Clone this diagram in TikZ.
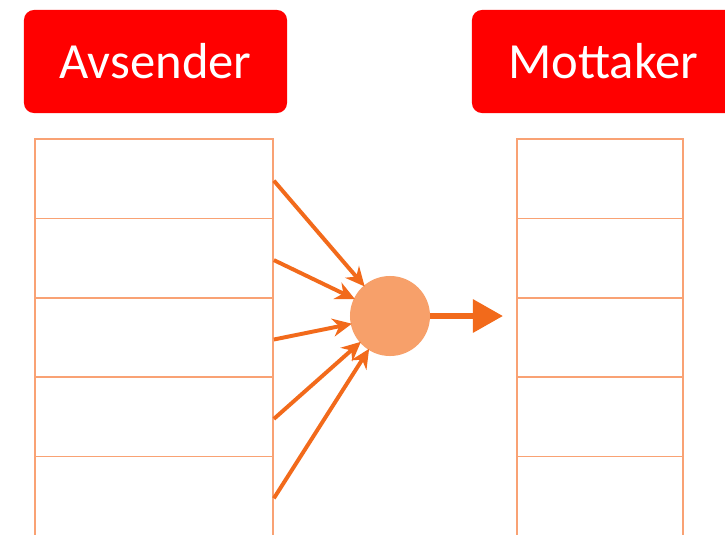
\documentclass[tikz,border=0pt]{standalone}
\usepackage{fontspec}
\setmainfont{Carlito}
\usepackage{xcolor}
\usetikzlibrary{positioning,arrows.meta,calc}

\definecolor{titlered}{HTML}{FF0000}
\definecolor{cellline}{HTML}{F9A274}
\definecolor{flowline}{HTML}{F26A1B}
\definecolor{hubfill}{HTML}{F7A06A}

\tikzset{
  titlebox/.style={draw=none, fill=titlered, rounded corners=0.25cm, text=white,
    font=\fontsize{36}{40}\selectfont, minimum width=6.575cm, minimum height=2.575cm},
  cell/.style={draw=cellline, line width=1.2pt, fill=white, minimum height=1.985cm},
  feed/.style={-{Stealth[length=0.48cm, width=0.45cm]}, line width=2.8pt, flowline, shorten >=-1pt},
  outarrow/.style={-{Triangle[length=0.75cm, width=0.8cm]}, line width=4.3pt, flowline}
}

\begin{document}
\begin{tikzpicture}[x=0.025cm, y=-0.025cm]
\clip (0,0) rectangle (725,534);
\fill[white] (0,0) rectangle (725,534);

% === TITLES ===
\node[titlebox] (avs) at (155.5, 61.5) {Avsender};
\node[titlebox] (mot) at (603.5, 61.5) {Mottaker};

% === STACKS (last row runs off the bottom) ===
\foreach \i in {1,...,6} {
  \node[cell, minimum width=5.95cm] (s\i) at (154, {139+79.4*(\i-0.5)}) {};
  \node[cell, minimum width=4.15cm] (r\i) at (600, {139+79.4*(\i-0.5)}) {};
}

% === HUB ===
\node[circle, fill=hubfill, minimum size=2cm, inner sep=0pt] (hub) at (390, 316) {};
\coordinate (tip) at (503, 316);

% arrows into the hub
\foreach \i in {1,...,5}
  \draw[feed] ($(s\i.east)+(0,2)$) -- (hub);

% arrow out of the hub
\draw[outarrow] (hub.east) -- (tip);

\end{tikzpicture}
\end{document}
